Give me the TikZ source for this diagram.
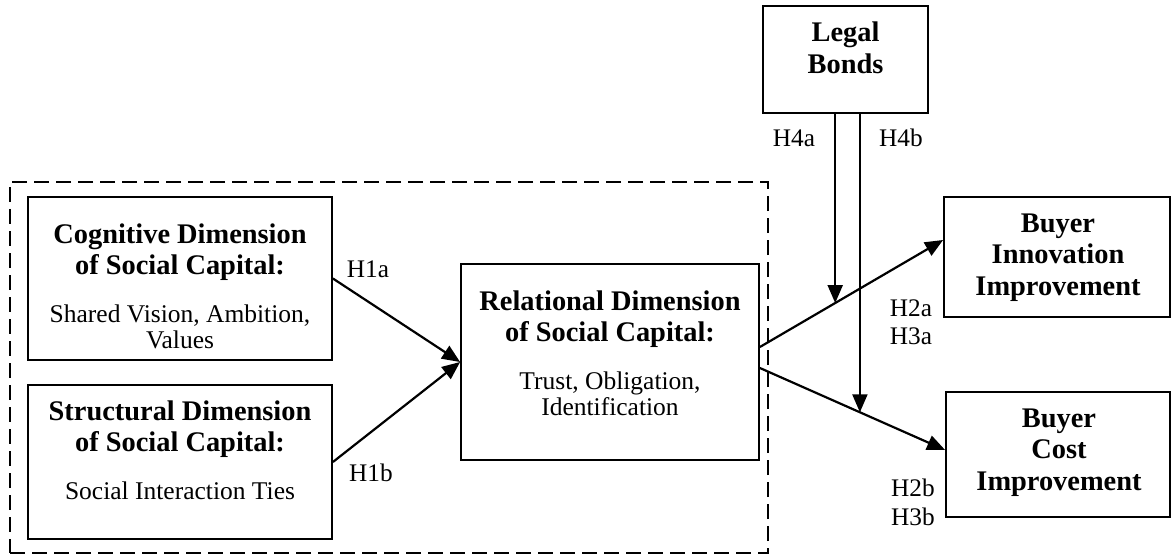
\documentclass[tikz,border=0pt]{standalone}
\usepackage{fontspec}
\setmainfont{Liberation Serif}
\usetikzlibrary{arrows.meta,calc}
\newcommand{\mytitle}[1]{{\fontsize{28.4}{31.5}\selectfont\bfseries\spaceskip=0pt\xspaceskip=0pt #1\par}}
\newcommand{\mybody}[1]{{\fontsize{25.5}{26.5}\selectfont\spaceskip=0pt\xspaceskip=0pt\vspace{21pt}#1\par}}
\begin{document}
\begin{tikzpicture}[x=1pt,y=-1pt,
  box/.style={draw, line width=1.8pt, inner sep=0pt},
  txt/.style={inner sep=0pt, text width=#1, align=flush center, execute at begin node={\parindent=0pt\spaceskip=0pt\xspaceskip=0pt}},
  lbl/.style={inner sep=0pt, font=\fontsize{25.3}{28.5}\selectfont, align=center},
  arr/.style={line width=2.2pt, -{Triangle[length=18pt,width=15pt]}},
  grp/.style={draw, line width=1.5pt, dash pattern=on 15pt off 7pt, inner sep=0pt}
]
\useasboundingbox (0,0) rectangle (1172,556);
% group
\node[grp, minimum width=758pt, minimum height=371pt] (group) at (389,367.5) {};
% boxes
\node[box, minimum width=304pt, minimum height=163pt] (cog) at (180,278.5) {};
\node[box, minimum width=304pt, minimum height=154pt] (struct) at (180,462) {};
\node[box, minimum width=298pt, minimum height=196pt] (rel) at (610,362) {};
\node[box, minimum width=165pt, minimum height=107pt] (legal) at (845.5,59.5) {};
\node[box, minimum width=226pt, minimum height=120pt] (innov) at (1057,257) {};
\node[box, minimum width=224pt, minimum height=125pt] (cost) at (1058,454.5) {};
% texts
\node[txt=300pt, anchor=base] (cogt) at (180,243) {\mytitle{Cognitive Dimension\\ of Social Capital:}\mybody{Shared Vision, Ambition,\\ Values}};
\node[txt=300pt, anchor=base] (structt) at (180,420) {\mytitle{Structural Dimension\\ of Social Capital:}\mybody{Social Interaction Ties}};
\node[txt=294pt, anchor=base] (relt) at (610,310) {\mytitle{Relational Dimension\\ of Social Capital:}\mybody{Trust, Obligation,\\ Identification}};
\node[txt=160pt, anchor=base] (legalt) at (845.5,42) {\mytitle{Legal\\ Bonds}};
\node[txt=220pt, anchor=base] (innovt) at (1058,232) {\mytitle{Buyer\\ Innovation\\ Improvement}};
\node[txt=220pt, anchor=base] (costt) at (1059,427) {\mytitle{Buyer\\ Cost\\ Improvement}};
% connectors
\draw[arr] (cog.east) -- (rel.west);
\draw[arr] (struct.east) -- (rel.west);
\draw[arr] ($(rel.east)+(0,-15)$) -- coordinate[pos=0.411] (m1) ($(innov.west)+(0,-17)$);
\draw[arr] ($(rel.east)+(0,6)$) -- coordinate[pos=0.54] (m2) ($(cost.west)+(0,-4.5)$);
\draw[arr] (m1 |- legal.south) -- (m1);
\draw[arr] (m2 |- legal.south) -- (m2);
% labels
\node[lbl] (h1a) at (368,269) {H1a};
\node[lbl] (h1b) at (371,473) {H1b};
\node[lbl] (h23a) at (911,322) {H2a\\H3a};
\node[lbl] (h23b) at (913,502.5) {H2b\\H3b};
\node[lbl] (h4a) at (794,138) {H4a};
\node[lbl] (h4b) at (901,138) {H4b};
\end{tikzpicture}
\end{document}
